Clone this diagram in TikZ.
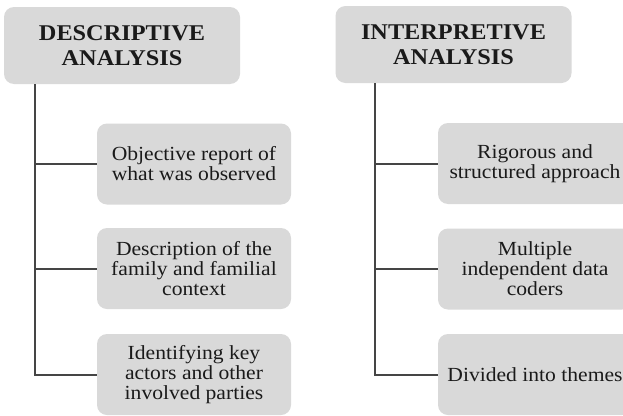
\documentclass[tikz,border=0pt]{standalone}
\usepackage{fontspec}
\setmainfont[FakeStretch=1.08]{Liberation Serif}
\definecolor{boxfill}{HTML}{D9D9D9}
\definecolor{linecol}{HTML}{454545}
\definecolor{txtcol}{HTML}{1A1A1A}
\tikzset{
  headbox/.style={fill=boxfill, rounded corners=10pt, minimum width=236pt, minimum height=77pt, align=center, text=txtcol, font=\fontsize{22.5}{25}\selectfont\bfseries, inner sep=0pt},
  itembox/.style={fill=boxfill, rounded corners=10pt, minimum width=194pt, minimum height=81pt, align=center, text=txtcol, font=\fontsize{20}{20}\selectfont, inner sep=0pt},
  conn/.style={draw=linecol, line width=2pt}
}
\begin{document}
\begin{tikzpicture}[x=1pt,y=-1pt]
\useasboundingbox (0,0) rectangle (623,415);
\clip (0,0) rectangle (623,415);
\fill[white] (0,0) rectangle (623,415);
% left column
\node[headbox] (h1) at (122,45.5) {DESCRIPTIVE\\ANALYSIS};
\node[itembox] (a1) at (194,164) {Objective report of\\what was observed};
\node[itembox] (a2) at (194,268.5) {Description of the\\family and familial\\context};
\node[itembox] (a3) at (194,374.5) {Identifying key\\actors and other\\involved parties};
\coordinate (t1) at (35,84);
\draw[conn] (t1) |- (a3.west);
\draw[conn] (t1 |- a1.west) -- (a1.west);
\draw[conn] (t1 |- a2.west) -- (a2.west);
% right column
\node[headbox] (h2) at (453.5,44.5) {INTERPRETIVE\\ANALYSIS};
\node[itembox] (b1) at (535,163.5) {Rigorous and\\structured approach};
\node[itembox] (b2) at (535,269) {Multiple\\independent data\\coders};
\node[itembox] (b3) at (535,374.5) {Divided into themes};
\coordinate (t2) at (375,83);
\draw[conn] (t2) |- (b3.west);
\draw[conn] (t2 |- b1.west) -- (b1.west);
\draw[conn] (t2 |- b2.west) -- (b2.west);
\end{tikzpicture}
\end{document}
